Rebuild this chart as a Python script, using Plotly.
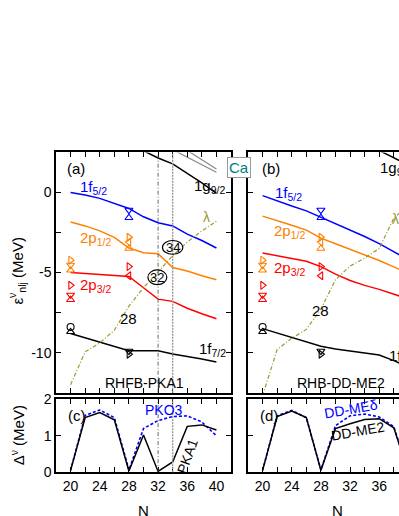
import plotly.graph_objects as go

# ---------------- data ----------------
N = [20, 22, 24, 26, 28, 30, 32, 34, 36, 38, 40]

# (a) RHFB-PKA1 single-particle energies (MeV)
a_1f52 = [0.0, -0.16, -0.37, -0.67, -1.0, -1.52, -1.89, -2.09, -2.6, -3.0, -3.47]
a_2p12 = [-1.85, -2.09, -2.4, -2.8, -3.47, -3.76, -3.82, -4.69, -4.9, -5.2, -5.45]
a_2p32 = [-5.0, -5.06, -5.12, -5.18, -5.24, -5.95, -6.66, -6.8, -7.23, -7.57, -7.88]
a_1f72 = [-8.8, -9.07, -9.34, -9.61, -9.88, -9.88, -9.88, -10.08, -10.22, -10.4, -10.59]
a_lam = [-12.0, -9.95, -9.4, -8.6, -7.1, -5.95, -4.95, -3.95, -3.1, -2.4, -1.8]
a_1g92_N = [30, 32, 34, 36, 38, 40]
a_1g92 = [2.6, 2.15, 1.78, 1.2, 0.59, -0.06]
a_g1_N = [34, 36, 38, 40]
a_g1 = [2.67, 2.2, 1.75, 1.26]
a_g2_N = [36, 38, 40]
a_g2 = [2.62, 2.04, 1.46]

# (b) RHB-DD-ME2
b_1f52 = [-0.2, -0.55, -0.85, -1.15, -1.55, -1.95, -2.35, -2.75, -3.2, -3.7, -4.2]
b_2p12 = [-1.48, -1.75, -2.05, -2.35, -2.85, -3.2, -3.55, -3.9, -4.25, -4.65, -5.05]
b_2p32 = [-3.78, -3.95, -4.1, -4.3, -4.63, -5.1, -5.5, -5.8, -6.05, -6.35, -6.65]
b_1f72 = [-8.5, -8.78, -9.05, -9.33, -9.6, -9.77, -9.9, -10.02, -10.15, -10.5, -10.9]
b_lam = [-12.7, -9.8, -9.1, -8.55, -7.27, -5.45, -4.6, -4.1, -3.5, -1.6, -0.8]
b_1g92_N = [36, 38, 40]
b_1g92 = [2.62, 2.16, 1.7]

# experimental energies (same in both panels)
exp_N = [20, 20, 20, 20, 20, 20, 20, 20,
         28, 28, 28, 28, 28, 28, 28, 28, 28]
exp_E = [-4.23, -4.53, -4.86, -5.8, -6.4, -6.7, -8.4, -8.7,
         -1.1, -1.58, -2.8, -3.1, -3.5, -4.63, -5.2, -9.9, -10.1]
exp_sym = ["triangle-right-open", "triangle-down-open", "triangle-up-open",
           "triangle-right-open", "triangle-down-open", "triangle-up-open",
           "circle-open", "triangle-up-open",
           "triangle-down-open", "triangle-up-open", "triangle-right-open",
           "triangle-left-open", "triangle-up-open", "triangle-right-open",
           "triangle-left-open", "triangle-down-open", "triangle-right-open"]
exp_col = ["#ff8000", "#ff8000", "#ff8000", "#ff0000", "#ff0000", "#ff0000",
           "black", "black",
           "#0000ff", "#0000ff", "#ff8000", "#ff8000", "#ff8000",
           "#ff0000", "#ff0000", "black", "black"]

# (c) pairing gaps
c_pka1 = [0.05, 1.5, 1.64, 1.44, 0.03, 1.02, 0.02, 0.28, 1.26, 1.3, 1.16]
c_pko3 = [0.05, 1.56, 1.71, 1.5, 0.06, 1.2, 1.42, 1.53, 1.55, 1.38, 1.0]
# (d)
d_me2 = [0.05, 1.53, 1.68, 1.5, 0.05, 1.2, 1.33, 1.45, 1.47, 1.22, 0.0]
d_med = [0.05, 1.55, 1.7, 1.5, 0.06, 1.28, 1.55, 1.6, 1.52, 1.25, 0.0]

BLUE, ORANGE, RED, OLIVE = "#0000ff", "#ff8000", "#ff0000", "#999933"
FONT = "Liberation Sans, Arial, sans-serif"

fig = go.Figure()


def line(x, y, color, xa, ya, dash="solid", width=1.5):
    fig.add_trace(go.Scatter(x=x, y=y, mode="lines", xaxis=xa, yaxis=ya,
                             line=dict(color=color, width=width, dash=dash),
                             showlegend=False, hoverinfo="skip"))


for (xa, ya, d1, d2, d3, d4, lam) in [
        ("x", "y", a_1f52, a_2p12, a_2p32, a_1f72, a_lam),
        ("x2", "y2", b_1f52, b_2p12, b_2p32, b_1f72, b_lam)]:
    line(N, d1, BLUE, xa, ya)
    line(N, d2, ORANGE, xa, ya)
    line(N, d3, RED, xa, ya)
    line(N, d4, "black", xa, ya)
    line(N, lam, OLIVE, xa, ya, dash="4px,2px,1px,2px", width=1.2)
    fig.add_trace(go.Scatter(x=exp_N, y=exp_E, mode="markers", xaxis=xa, yaxis=ya,
                             marker=dict(symbol=exp_sym, color=exp_col, size=7,
                                         line=dict(width=1.1, color=exp_col)),
                             showlegend=False, hoverinfo="skip"))

line(a_1g92_N, a_1g92, "black", "x", "y")
line(a_g1_N, a_g1, "#888888", "x", "y", width=1.2)
line(a_g2_N, a_g2, "#888888", "x", "y", width=1.2)
line(b_1g92_N, b_1g92, "black", "x2", "y2")

line(N, c_pko3, BLUE, "x3", "y3", dash="3px,2px", width=1.6)
line(N, c_pka1, "black", "x3", "y3")
line(N, d_med, BLUE, "x4", "y4", dash="3px,2px", width=1.6)
line(N, d_me2, "black", "x4", "y4")

# ---------------- axes ----------------
W, H = 399, 516
xa_dom = [56 / W, 231 / W]
xb_dom = [248 / W, 1.0]
y_up = [1 - 397 / H, 1 - 149 / H]
y_lo = [1 - 479 / H, 1 - 404 / H]

xticks = list(range(18, 43, 2))
xtext = [str(v) if v % 4 == 0 and v >= 20 else "" for v in xticks]

common = dict(showline=True, linecolor="black", linewidth=1.5, ticks="inside",
              ticklen=5, tickwidth=1.2, tickcolor="black", showgrid=False,
              zeroline=False, tickfont=dict(family=FONT, size=14, color="black"))


def xaxis(dom, rng, anchor, labels, mirror="ticks"):
    return dict(domain=dom, range=rng, anchor=anchor, tickmode="array",
                tickvals=xticks, ticktext=xtext, showticklabels=labels,
                mirror=mirror, **common)


fig.update_layout(
    xaxis=xaxis(xa_dom, [18, 42], "y", False),
    xaxis2=xaxis(xb_dom, [18, 38.71], "y2", False),
    xaxis3=xaxis(xa_dom, [18, 42], "y3", True),
    xaxis4=xaxis(xb_dom, [18, 38.71], "y4", True),
    yaxis=dict(domain=y_up, range=[-12.5, 2.5], anchor="x", tickmode="array",
               tickvals=[-10, -7.5, -5, -2.5, 0], ticktext=["-10", " ", "-5", " ", "0"],
               mirror="ticks", **common),
    yaxis2=dict(domain=y_up, range=[-12.5, 2.5], anchor="x2", tickmode="array",
                tickvals=[-10, -7.5, -5, -2.5, 0], showticklabels=False,
                mirror=False, **common),
    yaxis3=dict(domain=y_lo, range=[0, 2], anchor="x3", tickmode="array",
                tickvals=[0, 1, 2], ticktext=["0", "1", "2"], mirror="ticks", **common),
    yaxis4=dict(domain=y_lo, range=[0, 2], anchor="x4", tickmode="array",
                tickvals=[0, 1, 2], showticklabels=False, mirror=False, **common),
    width=W, height=H, margin=dict(l=0, r=0, t=0, b=0),
    paper_bgcolor="white", plot_bgcolor="white", showlegend=False,
    font=dict(family=FONT, size=14, color="black"),
)

# vertical guide lines
shapes = []
for xr, yr in [("x", "y domain"), ("x3", "y3 domain")]:
    shapes.append(dict(type="line", xref=xr, yref=yr, x0=32, x1=32, y0=0, y1=1,
                       line=dict(color="#444444", width=0.8, dash="4px,2px,1px,2px")))
    shapes.append(dict(type="line", xref=xr, yref=yr, x0=34, x1=34, y0=0, y1=1,
                       line=dict(color="#999999", width=1.4, dash="2px,1px")))
# circled numbers
shapes.append(dict(type="circle", xref="x", yref="y", x0=32.6, x1=35.4, y0=-3.86, y1=-3.0,
                   line=dict(color="black", width=1.2)))
shapes.append(dict(type="circle", xref="x", yref="y", x0=30.6, x1=33.2, y0=-5.75, y1=-4.84,
                   line=dict(color="black", width=1.2)))
fig.update_layout(shapes=shapes)

ann = []


def txt(x, y, s, xr, yr, color="black", size=15, xanchor="left", angle=0):
    ann.append(dict(x=x, y=y, xref=xr, yref=yr, text=s, showarrow=False,
                    xanchor=xanchor, yanchor="middle", textangle=angle,
                    font=dict(family=FONT, size=size, color=color)))


# panel (a)
txt(19.3, 1.5, "(a)", "x", "y")
txt(21.0, 0.3, "1f<sub>5/2</sub>", "x", "y", BLUE)
txt(21.0, -2.85, "2p<sub>1/2</sub>", "x", "y", ORANGE)
txt(21.0, -5.8, "2p<sub>3/2</sub>", "x", "y", RED)
txt(27.9, -7.85, "28", "x", "y", xanchor="center")
txt(37.3, -9.8, "1f<sub>7/2</sub>", "x", "y")
txt(36.7, 0.35, "1g<sub>9/2</sub>", "x", "y")
txt(38.7, -1.55, "λ", "x", "y", OLIVE, size=14, xanchor="center")
txt(30.2, -11.9, "RHFB-PKA1", "x", "y", xanchor="center", size=14)
txt(34.0, -3.43, "34", "x", "y", size=13, xanchor="center")
txt(31.9, -5.29, "32", "x", "y", size=13, xanchor="center")
# panel (b)
txt(19.6, 1.5, "(b)", "x2", "y2")
txt(21.4, -0.05, "1f<sub>5/2</sub>", "x2", "y2", BLUE)
txt(21.3, -2.45, "2p<sub>1/2</sub>", "x2", "y2", ORANGE)
txt(21.3, -4.75, "2p<sub>3/2</sub>", "x2", "y2", RED)
txt(28.0, -7.4, "28", "x2", "y2", xanchor="center")
txt(37.1, -10.25, "1f<sub>7/2</sub>", "x2", "y2")
txt(35.8, 1.5, "1g<sub>9/2</sub>", "x2", "y2")
txt(38.2, -1.65, "λ", "x2", "y2", OLIVE, size=14, xanchor="center")
txt(30.8, -11.9, "RHB-DD-ME2", "x2", "y2", xanchor="center", size=14)
# panel (c)
txt(19.4, 1.57, "(c)", "x3", "y3")
txt(29.9, 1.7, "PKO3", "x3", "y3", BLUE, size=14)
txt(36.0, 0.45, "PKA1", "x3", "y3", xanchor="center", angle=-70, size=14)
# panel (d)
txt(19.4, 1.57, "(d)", "x4", "y4")
txt(32.1, 1.75, "DD-MEδ", "x4", "y4", BLUE, xanchor="center", angle=-10, size=14)
txt(33.1, 1.12, "DD-ME2", "x4", "y4", xanchor="center", angle=-10, size=14)

# axis titles
ann.append(dict(x=17 / W, y=1 - 272 / H, xref="paper", yref="paper", showarrow=False,
                xanchor="center", yanchor="middle",
                text="ε<sup>ν</sup><sub>nlj</sub> (MeV)", textangle=-90,
                font=dict(family=FONT, size=15, color="black")))
ann.append(dict(x=17 / W, y=1 - 441 / H, xref="paper", yref="paper", showarrow=False,
                xanchor="center", yanchor="middle",
                text="Δ<sup>ν</sup> (MeV)", textangle=-90,
                font=dict(family=FONT, size=15, color="black")))
ann.append(dict(x=143 / W, y=1 - 508 / H, xref="paper", yref="paper", showarrow=False,
                xanchor="center", yanchor="top",
                text="N", font=dict(family=FONT, size=15, color="black")))
ann.append(dict(x=337 / W, y=1 - 508 / H, xref="paper", yref="paper", showarrow=False,
                xanchor="center", yanchor="top",
                text="N", font=dict(family=FONT, size=15, color="black")))
# Ca box
ann.append(dict(x=239 / W, y=1 - 165 / H, xref="paper", yref="paper", showarrow=False,
                xanchor="center", yanchor="middle",
                text="Ca", bgcolor="white", bordercolor="#999999", borderwidth=1,
                borderpad=1, font=dict(family=FONT, size=15, color="#008080")))
fig.update_layout(annotations=ann)

fig.write_html("out.html", config={"displayModeBar": False},
               post_script="document.body.style.margin='0';document.body.style.overflow='hidden';")
